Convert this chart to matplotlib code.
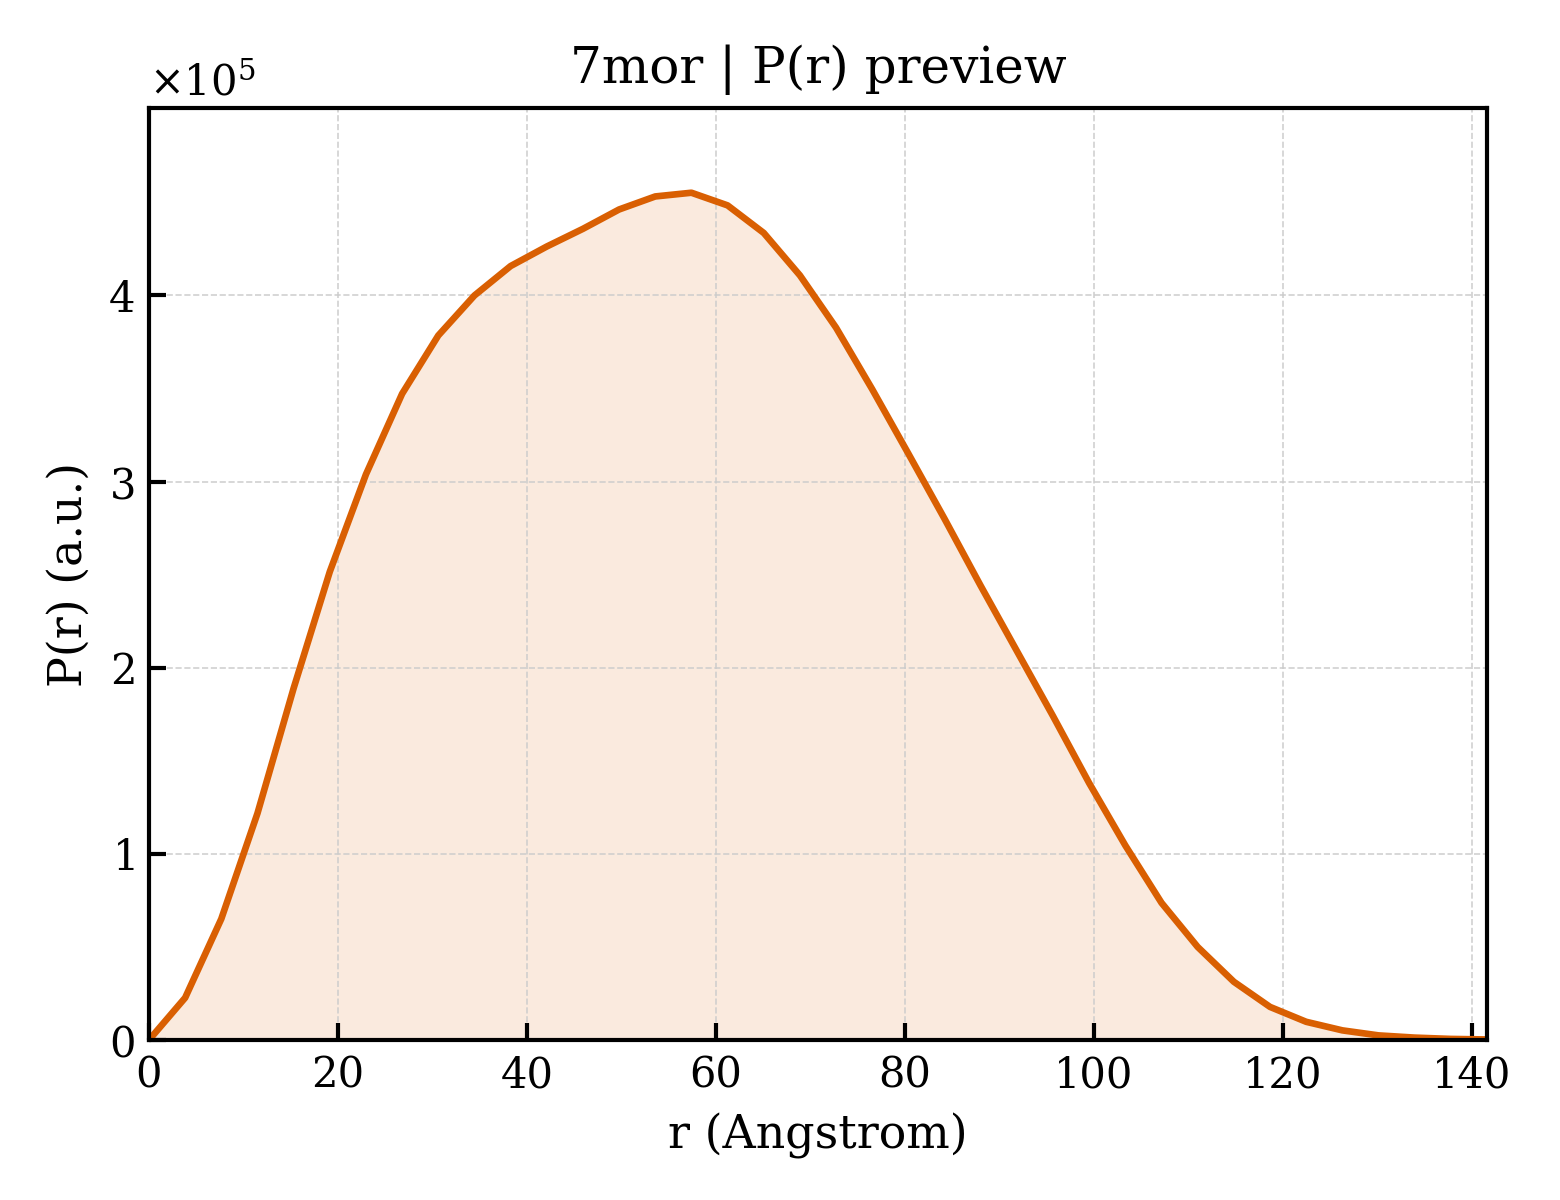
import numpy as np
import matplotlib
matplotlib.use("Agg")
import matplotlib.pyplot as plt
from matplotlib.ticker import ScalarFormatter

plt.rcParams['font.family'] = ['DejaVu Serif']
plt.rcParams['mathtext.fontset'] = 'dejavuserif'

r_max = 141.6
n_points = 38
r = np.linspace(0, r_max, n_points)
pr_1e5 = [0.0, 0.227, 0.651, 1.218, 1.890, 2.516, 3.039, 3.472, 3.785, 4.000,
          4.158, 4.263, 4.358, 4.462, 4.532, 4.552, 4.484, 4.336, 4.108, 3.827,
          3.496, 3.150, 2.800, 2.440, 2.090, 1.740, 1.380, 1.045, 0.737, 0.500,
          0.313, 0.178, 0.098, 0.052, 0.025, 0.013, 0.006, 0.003]
pr = np.array(pr_1e5) * 1e5

color = '#D95F02'

fig = plt.figure(figsize=(5.2, 4), dpi=300)
ax = fig.add_axes([0.0955, 0.1333, 0.8577, 0.7767])
ax.fill_between(r, pr, 0, color=color, alpha=0.13, linewidth=0)
ax.plot(r, pr, color=color, linewidth=1.6)

ax.set_xlim(0, r_max)
ax.set_ylim(0, pr.max() * 1.1)
ax.set_xticks([0, 20, 40, 60, 80, 100, 120, 140])
ax.set_yticks([0, 1e5, 2e5, 3e5, 4e5])
fmt = ScalarFormatter(useMathText=True)
fmt.set_powerlimits((0, 0))
ax.yaxis.set_major_formatter(fmt)
ax.yaxis.get_offset_text().set_fontsize(10)

ax.tick_params(direction='in', length=4, width=1, labelsize=10)
for s in ax.spines.values():
    s.set_linewidth(1.0)
ax.grid(True, linestyle='--', linewidth=0.4, color='#cccccc', alpha=0.9)

ax.set_xlabel('r (Angstrom)', fontsize=11)
ax.set_ylabel('P(r) (a.u.)', fontsize=11)
ax.set_title('7mor | P(r) preview', fontsize=12)

fig.savefig('out.png', dpi=300)
